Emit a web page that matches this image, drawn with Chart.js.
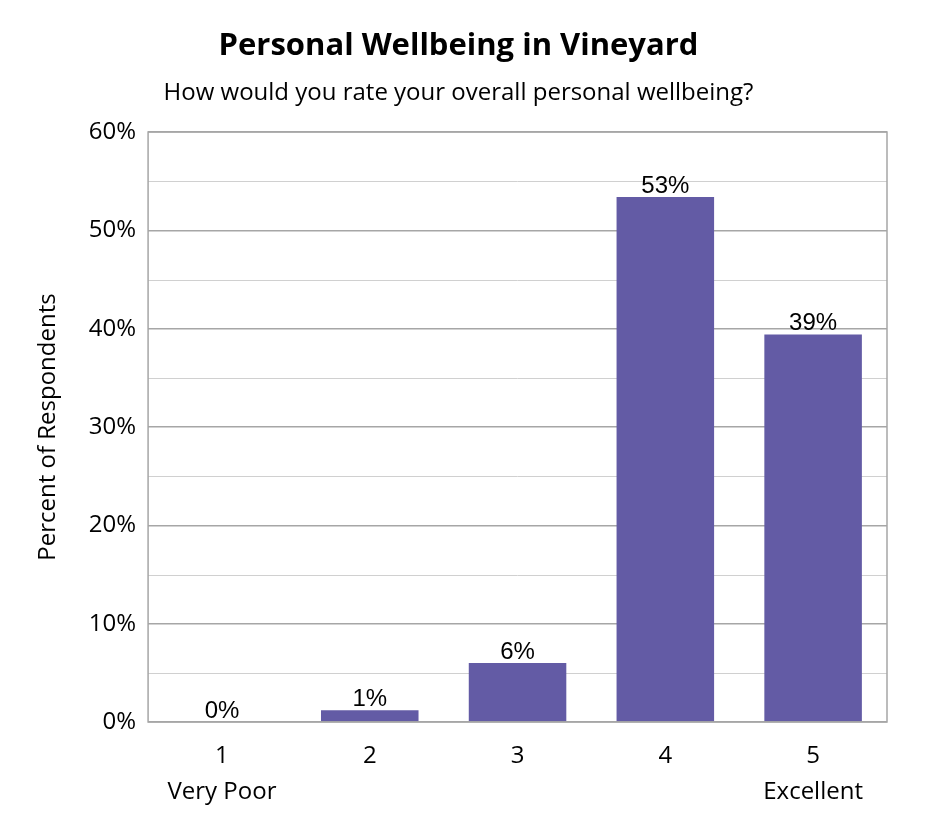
<!DOCTYPE html>
<html><head><meta charset="utf-8">
<script src="https://cdn.jsdelivr.net/npm/chart.js@4"></script>
<style>body{margin:0;background:#fff}#w{width:945px;height:840px}</style>
</head><body><div id="w"><canvas id="c"></canvas></div>
<script>
const categories=[["1","Very Poor"],"2","3","4",["5","Excellent"]];
const values=[0,1.2,6,53.4,39.4];
const labels=["0%","1%","6%","53%","39%"];
const F="'Open Sans','Noto Sans',sans-serif";
const plug={id:'p',afterDatasetsDraw(ch){const c=ch.ctx,a=ch.chartArea;c.save();c.strokeStyle='#a6a6a6';c.lineWidth=1.5;c.strokeRect(a.left,a.top,a.right-a.left,a.bottom-a.top);
c.fillStyle='#000';c.font="24px 'Liberation Sans',Arial";c.textAlign='center';c.textBaseline='bottom';
ch.getDatasetMeta(0).data.forEach((b,i)=>c.fillText(labels[i],b.x,b.y+1));c.restore();}};
new Chart(document.getElementById('c'),{type:'bar',data:{labels:categories,datasets:[{data:values,backgroundColor:'#635ba5',categoryPercentage:0.66,barPercentage:1}]},
options:{responsive:true,maintainAspectRatio:false,animation:false,
layout:{padding:{left:30,right:58,top:10,bottom:22}},
plugins:{legend:{display:false},tooltip:{enabled:false},
title:{display:true,text:'Personal Wellbeing in Vineyard',font:{family:F,size:31,weight:'bold'},color:'#000',padding:{top:18,bottom:14}},
subtitle:{display:true,text:'How would you rate your overall personal wellbeing?',font:{family:F,size:24},color:'#000',padding:{bottom:24}}},
scales:{x:{grid:{display:false},border:{display:false},ticks:{color:'#000',font:{family:F,size:24,lineHeight:1.5},padding:8}},
y:{min:0,max:60,ticks:{stepSize:10,color:'#000',font:{family:F,size:24},callback:v=>v+'%',padding:12},
grid:{color:'#a6a6a6',lineWidth:1.5,drawTicks:false},border:{display:false},
title:{display:true,text:'Percent of Respondents',font:{family:F,size:24},color:'#000',padding:{bottom:14}}}}},
plugins:[plug,{id:'minor',beforeDatasetsDraw(ch){const c=ch.ctx,a=ch.chartArea,y=ch.scales.y;c.save();c.strokeStyle='#d0d0d0';c.lineWidth=1;for(let v=5;v<60;v+=10){const p=Math.round(y.getPixelForValue(v))+0.5;c.beginPath();c.moveTo(a.left,p);c.lineTo(a.right,p);c.stroke();}c.restore();}}]});
</script></body></html>
